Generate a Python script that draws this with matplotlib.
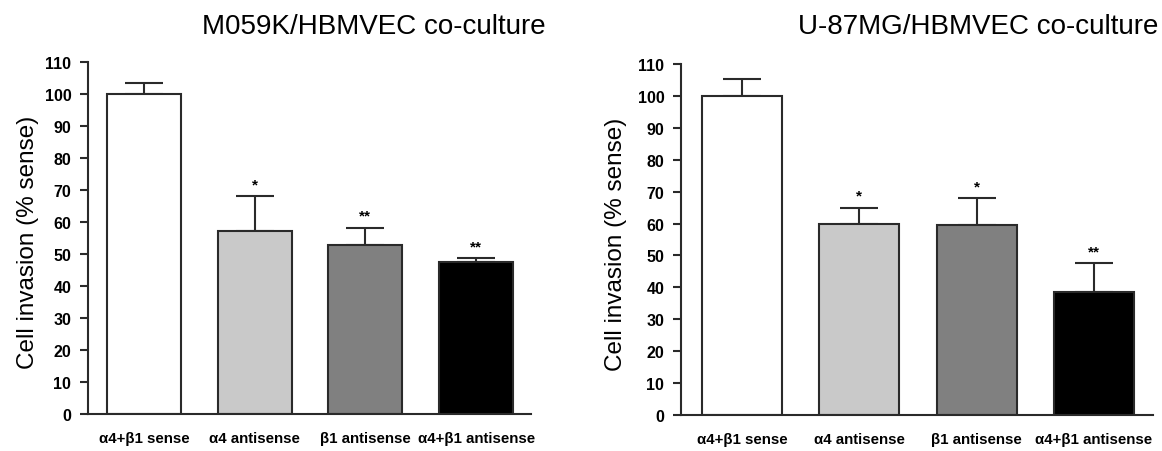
import matplotlib
matplotlib.use("Agg")
import matplotlib.pyplot as plt

plt.rcParams['font.family'] = ['Liberation Sans', 'DejaVu Sans']

categories = ["α4+β1 sense", "α4 antisense", "β1 antisense", "α4+β1 antisense"]
yticks = list(range(0, 111, 10))

titles = ["M059K/HBMVEC co-culture", "U-87MG/HBMVEC co-culture"]
ylabel = "Cell invasion (% sense)"

m059k_values = [100.0, 57.3, 52.8, 47.5]
m059k_errors = [3.3, 10.8, 5.4, 1.3]
m059k_stars = ["", "*", "**", "**"]

u87_values = [100.0, 60.0, 59.5, 38.6]
u87_errors = [5.2, 5.0, 8.4, 8.9]
u87_stars = ["", "*", "*", "**"]

colors = ["#ffffff", "#c9c9c9", "#808080", "#000000"]

fig = plt.figure(figsize=(11.62, 4.52), dpi=100)

panels = [
    dict(values=m059k_values, errors=m059k_errors, stars=m059k_stars, title=titles[0],
         rect=[88/1162, 1-415/452, (531-88)/1162, (415-63)/452], xlim=(-0.506, 3.496), width=0.668,
         ylab_x=-0.11, title_x=374/1162),
    dict(values=u87_values, errors=u87_errors, stars=u87_stars, title=titles[1],
         rect=[681/1162, 1-416/452, (1153-681)/1162, (416-65)/452], xlim=(-0.52, 3.504), width=0.682,
         ylab_x=-0.114, title_x=978/1162),
]

edge = "#2a2a2a"
for p in panels:
    ax = fig.add_axes(p["rect"])
    x = list(range(len(categories)))
    ax.bar(x, p["values"], width=p["width"], color=colors, edgecolor=edge, linewidth=1.5, zorder=2)
    ax.errorbar(x, p["values"], yerr=[[0]*4, p["errors"]], fmt="none", ecolor=edge,
                elinewidth=1.5, capsize=14, capthick=1.5, zorder=1)
    for xi, v, e, s in zip(x, p["values"], p["errors"], p["stars"]):
        if s:
            ax.text(xi, v + e + 1.5, s, ha="center", va="bottom", fontsize=11, fontweight="bold")
    ax.set_xlim(*p["xlim"])
    ax.set_ylim(0, 110)
    ax.set_yticks(yticks)
    ax.set_yticklabels([str(t) for t in yticks], fontsize=11.5, fontweight="bold")
    ax.set_xticks(x)
    ax.set_xticklabels(categories, fontsize=10.8, fontweight="bold")
    ax.tick_params(axis="x", length=0, pad=12)
    ax.tick_params(axis="y", direction="out", length=6, width=1.5, color=edge, pad=6)
    for side in ["top", "right"]:
        ax.spines[side].set_visible(False)
    for side in ["left", "bottom"]:
        ax.spines[side].set_linewidth(1.5)
        ax.spines[side].set_color(edge)
    ax.set_ylabel(ylabel, fontsize=17.5)
    ax.yaxis.set_label_coords(p["ylab_x"], 0.49)
    fig.text(p["title_x"], 1 - 27/452, p["title"], ha="center", va="center", fontsize=20)

fig.savefig("out.png", dpi=100)
